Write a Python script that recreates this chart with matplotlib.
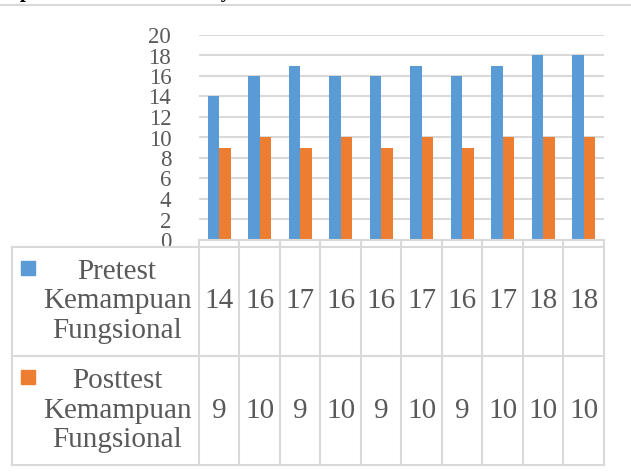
import matplotlib.pyplot as plt
import matplotlib.transforms as mtransforms
from matplotlib.patches import Rectangle

W, H = 631, 473

series_names = ['Pretest\nKemampuan\nFungsional', 'Posttest\nKemampuan\nFungsional']
pretest = [14, 16, 17, 16, 16, 17, 16, 17, 18, 18]
posttest = [9, 10, 9, 10, 9, 10, 9, 10, 10, 10]
y_ticks = [0, 2, 4, 6, 8, 10, 12, 14, 16, 18, 20]
title = 'Graph 1. Functional Ability Measurement Results'

BLUE = '#5B9BD5'
ORANGE = '#ED7D31'
TEXT = '#595959'
GRID = '#D9D9D9'
FONT = 'Liberation Serif'


def fx(x):
    return x / W


def fy(y):
    return 1 - y / H


fig = plt.figure(figsize=(W / 100, H / 100), dpi=100)
ax = fig.add_axes([fx(199), fy(240), fx(604) - fx(199), fy(35) - fy(240)])

n = len(pretest)
xs = [i + 0.5 for i in range(n)]
bw = 0.29
ax.bar([x - bw / 2 for x in xs], pretest, bw, color=BLUE, zorder=3)
ax.bar([x + bw / 2 for x in xs], posttest, bw, color=ORANGE, zorder=3)

ax.set_xlim(0, n)
ax.set_ylim(0, 20)
ax.set_yticks(y_ticks)
ax.set_xticks([])
ax.grid(axis='y', color=GRID, linewidth=1.5, zorder=0)
for s in ax.spines.values():
    s.set_visible(False)
ax.tick_params(axis='y', length=0, pad=20, labelsize=16.5, labelcolor=TEXT)
for lab in ax.get_yticklabels():
    lab.set_fontfamily(FONT)

# data table under the axis: x from the axis scale, y in figure pixels
tr = mtransforms.blended_transform_factory(ax.transData, fig.transFigure)
lkw = dict(color=GRID, linewidth=1.5, clip_on=False)

y_top, y_cat, y_mid, y_bot = 240, 247, 356, 465
left_x = 12
x_left = ax.transData.inverted().transform(fig.transFigure.transform((fx(left_x), 0)))[0]

# horizontal lines
fig.add_artist(plt.Line2D([0, n], [fy(y_top)] * 2, transform=tr, **lkw))
for yy in (y_cat, y_mid, y_bot):
    fig.add_artist(plt.Line2D([x_left, n], [fy(yy)] * 2, transform=tr, **lkw))

# vertical lines
for i in range(n + 1):
    fig.add_artist(plt.Line2D([i, i], [fy(y_top), fy(y_bot)], transform=tr, **lkw))
fig.add_artist(plt.Line2D([x_left] * 2, [fy(y_cat), fy(y_bot)], transform=tr, **lkw))

# cell values, row headers and legend keys
rows = [pretest, posttest]
row_mid = [(y_cat + y_mid) / 2, (y_mid + y_bot) / 2]
colors = [BLUE, ORANGE]
for r, vals in enumerate(rows):
    for i, v in enumerate(vals):
        fig.text(xs[i], fy(row_mid[r]), str(v), transform=tr, ha='center', va='center',
                 fontsize=21, color=TEXT, family=FONT)
    fig.text(fx(117), fy(row_mid[r]), series_names[r], ha='center', va='center',
             fontsize=21, color=TEXT, family=FONT, linespacing=1.18)
    fig.add_artist(Rectangle((fx(21), fy(row_mid[r] - 27)), fx(14), fy(0) - fy(14),
                             transform=fig.transFigure, color=colors[r]))

# cropped title and rule at the very top
fig.text(fx(-16), fy(-3), title, ha='left', va='baseline', fontsize=15,
         fontweight='bold', color='black', family=FONT)
fig.add_artist(plt.Line2D([0, 1], [fy(5.5)] * 2, transform=fig.transFigure, color=GRID, linewidth=1.5))

fig.savefig('out.png', dpi=100)
